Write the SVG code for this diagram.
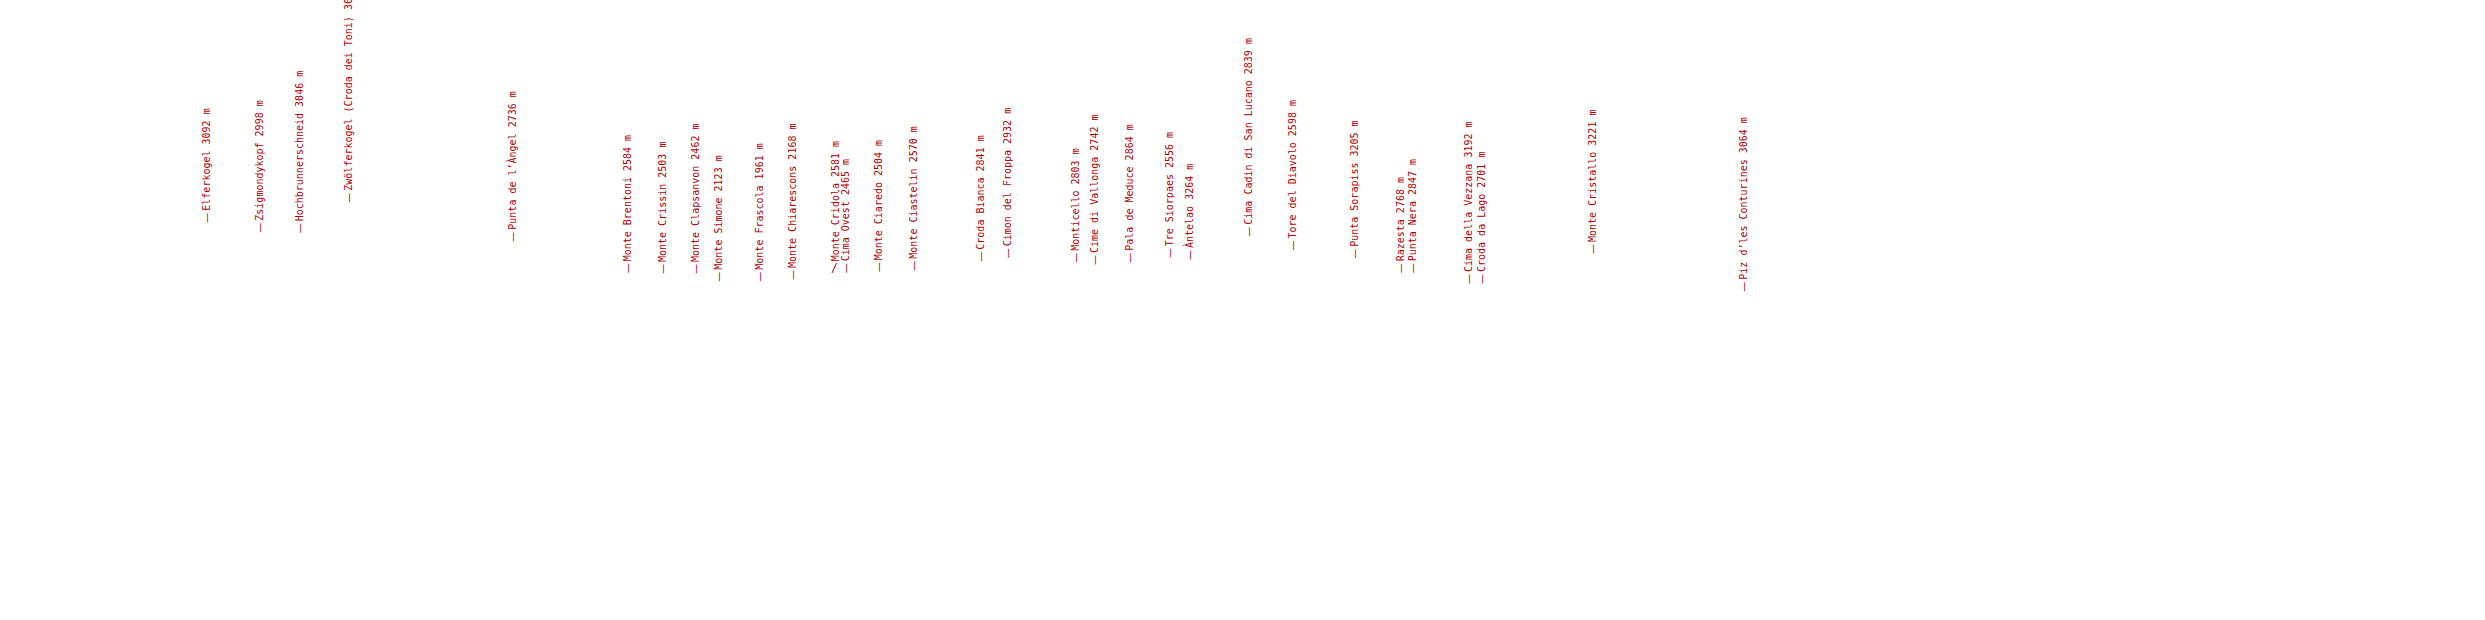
<svg xmlns="http://www.w3.org/2000/svg" width="2485" height="620" viewBox="0 0 2485 620">
<style>
text{font-family:"DejaVu Sans Mono","Liberation Mono",monospace;font-size:10px;fill:#a00}
.d{font-family:"DejaVu Sans",sans-serif}
.lead{stroke:#a00;stroke-width:1;fill:none}
</style>
<rect width="2485" height="620" fill="#fff"/>
<g id="connectors">
<line class="lead" x1="836.5" y1="263" x2="832" y2="273"/>
</g>
<g id="elferkogel"><text transform="translate(210,222.7) rotate(-90)"><tspan class="d">—</tspan><tspan dx="2">Elferkogel 3092 m</tspan></text></g>
<g id="zsigmondykopf"><text transform="translate(263.3,232.7) rotate(-90)"><tspan class="d">—</tspan><tspan dx="2">Zsigmondykopf 2998 m</tspan></text></g>
<g id="hochbrunnerschneid"><text transform="translate(303.3,233.3) rotate(-90)"><tspan class="d">—</tspan><tspan dx="2">Hochbrunnerschneid 3046 m</tspan></text></g>
<g id="zwoelferkogel"><text transform="translate(351.6,202.7) rotate(-90)"><tspan class="d">—</tspan><tspan dx="2">Zwölferkogel (Croda dei Toni) 3094 m</tspan></text></g>
<g id="angel"><text transform="translate(515.6,241.7) rotate(-90)"><tspan class="d">—</tspan><tspan dx="2">Punta de l’Àngel 2736 m</tspan></text></g>
<g id="brentoni"><text transform="translate(630.8,273.3) rotate(-90)"><tspan class="d">—</tspan><tspan dx="2">Monte Brentoni 2584 m</tspan></text></g>
<g id="crissin"><text transform="translate(666,274) rotate(-90)"><tspan class="d">—</tspan><tspan dx="2">Monte Crissin 2503 m</tspan></text></g>
<g id="clapsanvon"><text transform="translate(699.3,274) rotate(-90)"><tspan class="d">—</tspan><tspan dx="2">Monte Clapsanvon 2462 m</tspan></text></g>
<g id="simone"><text transform="translate(722.3,281.7) rotate(-90)"><tspan class="d">—</tspan><tspan dx="2">Monte Simone 2123 m</tspan></text></g>
<g id="frascola"><text transform="translate(762.6,281.7) rotate(-90)"><tspan class="d">—</tspan><tspan dx="2">Monte Frascola 1961 m</tspan></text></g>
<g id="chiarescons"><text transform="translate(795.8,280) rotate(-90)"><tspan class="d">—</tspan><tspan dx="2">Monte Chiarescons 2168 m</tspan></text></g>
<g id="cridola"><text transform="translate(839.3,273.3) rotate(-90)"><tspan dx="12">Monte Cridola 2581 m</tspan></text></g>
<g id="cima-ovest"><text transform="translate(849.3,273.3) rotate(-90)"><tspan class="d">—</tspan><tspan dx="2">Cima Ovest 2465 m</tspan></text></g>
<g id="ciaredo"><text transform="translate(881.6,272.3) rotate(-90)"><tspan class="d">—</tspan><tspan dx="2">Monte Ciaredo 2504 m</tspan></text></g>
<g id="ciastelin"><text transform="translate(916.6,270.7) rotate(-90)"><tspan class="d">—</tspan><tspan dx="2">Monte Ciastelin 2570 m</tspan></text></g>
<g id="croda-bianca"><text transform="translate(984,261.7) rotate(-90)"><tspan class="d">—</tspan><tspan dx="2">Croda Bianca 2841 m</tspan></text></g>
<g id="cimon-froppa"><text transform="translate(1011,258.3) rotate(-90)"><tspan class="d">—</tspan><tspan dx="2">Cimon del Froppa 2932 m</tspan></text></g>
<g id="monticello"><text transform="translate(1079.3,262.7) rotate(-90)"><tspan class="d">—</tspan><tspan dx="2">Monticello 2803 m</tspan></text></g>
<g id="vallonga"><text transform="translate(1097.6,265) rotate(-90)"><tspan class="d">—</tspan><tspan dx="2">Cime di Vallonga 2742 m</tspan></text></g>
<g id="meduce"><text transform="translate(1133.3,262.7) rotate(-90)"><tspan class="d">—</tspan><tspan dx="2">Pala de Meduce 2864 m</tspan></text></g>
<g id="siorpaes"><text transform="translate(1172.6,258.3) rotate(-90)"><tspan class="d">—</tspan><tspan dx="2">Tre Siorpaes 2556 m</tspan></text></g>
<g id="antelao"><text transform="translate(1193.3,260) rotate(-90)"><tspan class="d">—</tspan><tspan dx="2">Àntelao 3264 m</tspan></text></g>
<g id="cadin"><text transform="translate(1251.6,236.7) rotate(-90)"><tspan class="d">—</tspan><tspan dx="2">Cima Cadin di San Lucano 2839 m</tspan></text></g>
<g id="diavolo"><text transform="translate(1296,250.5) rotate(-90)"><tspan class="d">—</tspan><tspan dx="2">Tore del Diavolo 2598 m</tspan></text></g>
<g id="sorapiss"><text transform="translate(1357.5,258.8) rotate(-90)"><tspan class="d">—</tspan><tspan dx="2">Punta Sorapiss 3205 m</tspan></text></g>
<g id="razesta"><text transform="translate(1404,273.3) rotate(-90)"><tspan class="d">—</tspan><tspan dx="2">Razesta 2768 m</tspan></text></g>
<g id="punta-nera"><text transform="translate(1416,273.3) rotate(-90)"><tspan class="d">—</tspan><tspan dx="2">Punta Nera 2847 m</tspan></text></g>
<g id="vezzana"><text transform="translate(1471.6,284) rotate(-90)"><tspan class="d">—</tspan><tspan dx="2">Cima della Vezzana 3192 m</tspan></text></g>
<g id="croda-lago"><text transform="translate(1485,284) rotate(-90)"><tspan class="d">—</tspan><tspan dx="2">Croda da Lago 2701 m</tspan></text></g>
<g id="cristallo"><text transform="translate(1596,254) rotate(-90)"><tspan class="d">—</tspan><tspan dx="2">Monte Cristallo 3221 m</tspan></text></g>
<g id="conturines"><text transform="translate(1746.6,291.7) rotate(-90)"><tspan class="d">—</tspan><tspan dx="2">Piz d’les Conturines 3064 m</tspan></text></g>
</svg>
